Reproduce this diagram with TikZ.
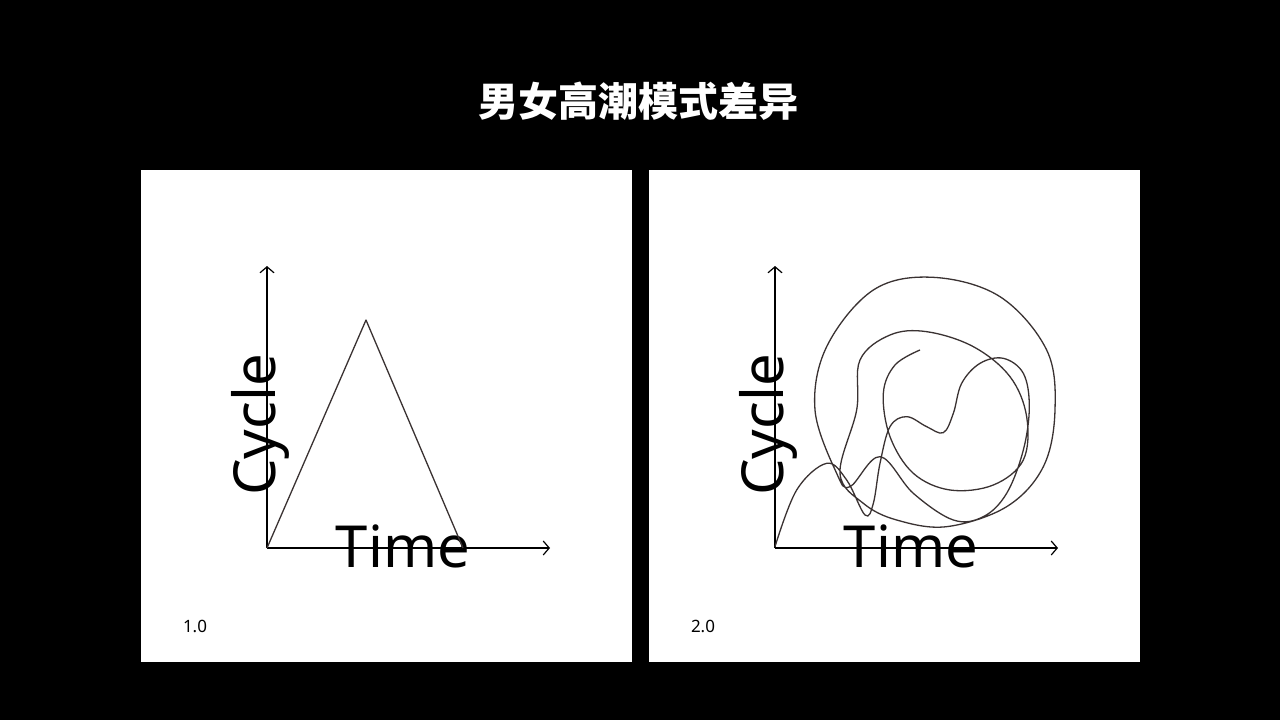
\documentclass[tikz,border=0pt]{standalone}
\usepackage{fontspec}
\setmainfont{Noto Sans}
\newfontfamily\cjk{Noto Sans CJK SC}
\usetikzlibrary{arrows.meta}
\definecolor{ink}{HTML}{3A3232}
\tikzset{
  panel/.style={fill=white,draw=none},
  axis/.style={line width=2pt,black,-{Straight Barb[length=6pt,width=14pt,line width=1.2pt]}},
  curve/.style={ink,line width=1.3pt,line join=round},
  biglab/.style={font=\fontsize{58}{58}\selectfont,inner sep=0pt},
  vers/.style={font=\fontsize{17}{17}\selectfont,inner sep=0pt}
}
\begin{document}
\begin{tikzpicture}[x=1pt,y=-1pt]
\useasboundingbox (0,0) rectangle (1280,720);
\fill[black] (0,0) rectangle (1280,720);
\node[font=\cjk\bfseries\fontsize{40}{40}\selectfont,text=white] (title) at (638,101) {男女高潮模式差异};
% panel 1
\fill[panel] (141,170) rectangle (632,662);
\coordinate (o1) at (267,548);
\coordinate (y1) at (267,266);
\coordinate (x1) at (550,548);
\node[biglab,rotate=90] (cyc1) at (260,425) {Cycle};
\node[biglab] (time1) at (403,546) {Time};
\draw[axis] (o1) -- (y1);
\draw[axis] (o1) -- (x1);
\coordinate (p1) at (366,320);
\coordinate (e1) at (463,548);
\draw[curve] (o1) -- (p1) -- (e1);
\node[vers] (v1) at (195,626) {1.0};
% panel 2
\fill[panel] (649,170) rectangle (1140,662);
\coordinate (o2) at (775,548);
\coordinate (y2) at (775,266);
\coordinate (x2) at (1058,548);
\node[biglab,rotate=90] (cyc2) at (768,425) {Cycle};
\node[biglab] (time2) at (911,546) {Time};
\draw[axis] (o2) -- (y2);
\draw[axis] (o2) -- (x2);
\begin{scope}[shift={(740,250)},scale=1/3]
\draw[curve] plot[smooth,tension=0.6] coordinates {
 (105,890) (170,720) (260,640) (320,690) (375,795) (400,760) (420,640) (450,530)
 (500,500) (560,530) (610,548) (640,490) (665,400) (720,340) (790,325) (850,370)
 (868,470) (850,600) (800,730) (730,800) (640,810) (520,730) (420,620) (330,710)
 (290,670) (225,480) (260,290) (400,120) (580,82) (780,140) (920,300)
 (945,480) (910,650) (800,770) (620,830) (470,810) (370,760)
 (300,670) (350,480) (360,330) (450,255) (560,245) (700,290) (810,380) (860,500)
 (850,630) (760,705) (630,720) (520,670) (450,560) (430,430) (465,345) (540,300) };
\end{scope}
\node[vers] (v2) at (703,626) {2.0};
\end{tikzpicture}
\end{document}
